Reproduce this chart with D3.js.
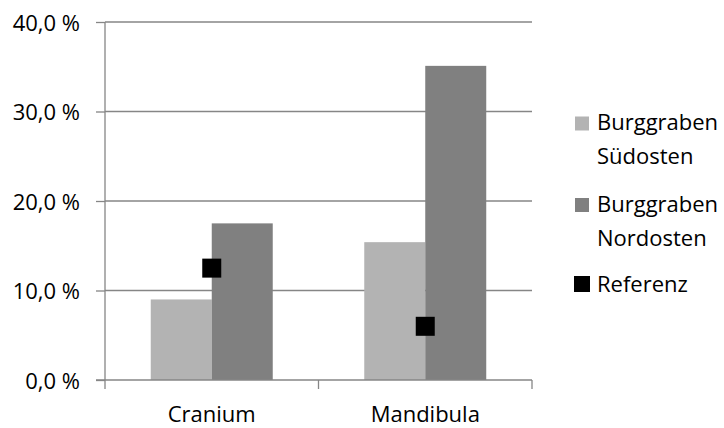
<!DOCTYPE html>
<html><head><meta charset="utf-8">
<script src="https://cdn.jsdelivr.net/npm/d3@7"></script>
<style>body{margin:0;background:#fff}text{font-family:"Open Sans",sans-serif;fill:#000}</style>
</head><body>
<svg id="c" width="724" height="428"></svg>
<script>
const categories = ["Cranium", "Mandibula"];
const seriesNames = ["Burggraben Südosten", "Burggraben Nordosten"];
const suedosten = [9.0, 15.4];
const nordosten = [17.5, 35.1];
const referenz = [12.5, 6.0];
const yTicks = [0, 10, 20, 30, 40];
const barColors = ["#b3b3b3", "#808080"];
const FS = 22;

const svg = d3.select("#c");
const x0 = d3.scaleBand().domain(categories).range([105, 532]).paddingInner(0.4286).paddingOuter(0.2143);
const x1 = d3.scaleBand().domain([0, 1]).range([0, x0.bandwidth()]);
const y = d3.scaleLinear().domain([0, 40]).range([380, 22]);
const fmt = v => v.toFixed(1).replace(".", ",") + " %";

// gridlines
svg.append("g").selectAll("line").data(yTicks.filter(t => t > 0)).join("line")
  .attr("x1", 105).attr("x2", 532).attr("y1", d => y(d)).attr("y2", d => y(d))
  .attr("stroke", "#868686").attr("stroke-width", 1.3);

// bars
const vals = [suedosten, nordosten];
categories.forEach((c, i) => {
  [0, 1].forEach(s => {
    svg.append("rect")
      .attr("x", x0(c) + x1(s)).attr("width", x1.bandwidth())
      .attr("y", y(vals[s][i])).attr("height", y(0) - y(vals[s][i]))
      .attr("fill", barColors[s]);
  });
});

// y axis
const yAxis = d3.axisLeft(y).tickValues(yTicks).tickSize(9).tickFormat(fmt);
const gy = svg.append("g").attr("transform", "translate(105,0)").call(yAxis);
gy.select(".domain").attr("stroke", "#868686").attr("stroke-width", 1.3).attr("d", "M0,22V380");
gy.selectAll(".tick line").attr("stroke", "#868686").attr("stroke-width", 1.3);
gy.selectAll(".tick text").attr("font-size", FS).attr("font-family", "'Open Sans',sans-serif")
  .attr("fill", "#000").attr("x", -25).attr("dy", null).attr("y", 8);

// x axis
const bounds = [105, x0(categories[1]) - x0.step() * x0.paddingInner() / 2, 532];
svg.append("line").attr("x1", 96).attr("x2", 532).attr("y1", 380).attr("y2", 380).attr("stroke", "#868686").attr("stroke-width", 1.3);
svg.append("g").selectAll("line").data(bounds).join("line")
  .attr("x1", d => d).attr("x2", d => d).attr("y1", 380).attr("y2", 389)
  .attr("stroke", "#868686").attr("stroke-width", 1.3);
svg.append("g").selectAll("text").data(categories).join("text")
  .attr("x", d => x0(d) + x0.bandwidth() / 2).attr("y", 422)
  .attr("text-anchor", "middle").attr("font-size", FS).text(d => d);

// referenz markers
svg.append("g").selectAll("rect").data(categories).join("rect")
  .attr("x", (d, i) => x0(d) + x0.bandwidth() / 2 - 9.5)
  .attr("y", (d, i) => y(referenz[i]) - 9.5)
  .attr("width", 19).attr("height", 19).attr("fill", "#000");

// legend
const lg = svg.append("g");
const legendItems = [
  {lines: ["Burggraben", "Südosten"], color: barColors[0], y: 123.5, base: 130, size: 14},
  {lines: ["Burggraben", "Nordosten"], color: barColors[1], y: 205, base: 211.5, size: 14},
  {lines: ["Referenz"], color: "#000", y: 284, base: 291.5, size: 16}
];
legendItems.forEach(it => {
  lg.append("rect").attr("x", 582 - it.size / 2).attr("y", it.y - it.size / 2)
    .attr("width", it.size).attr("height", it.size).attr("fill", it.color);
  it.lines.forEach((l, j) => {
    lg.append("text").attr("x", 597).attr("y", it.base + j * 34).attr("font-size", FS).text(l);
  });
});
</script>
</body></html>
